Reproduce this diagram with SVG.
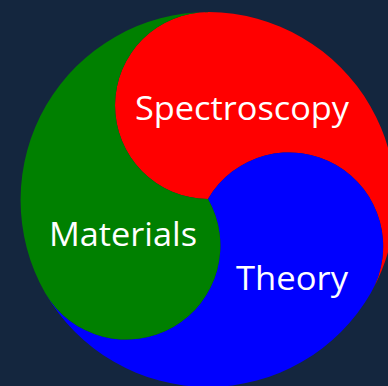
<svg xmlns="http://www.w3.org/2000/svg" width="388" height="386" viewBox="0 0 388 386">
  <style>
    .lbl { font-family: "Open Sans", "Noto Sans", sans-serif; font-size: 32px; fill: #ffffff; }
  </style>
  <rect width="388" height="386" fill="#14263e"/>
  <g id="spectroscopy">
    <path d="M208,199 A93,93 0 0 1 209,12 A188,188 0 0 1 370.81,293 A94,94 0 0 0 208,199 Z" fill="#ff0000"/>
    <text class="lbl" x="135" y="120" textLength="214" lengthAdjust="spacingAndGlyphs">Spectroscopy</text>
  </g>
  <g id="theory">
    <path d="M208,199 A94,94 0 0 1 370.81,293 A188,188 0 0 1 45.19,293 A94,94 0 0 0 208,199 Z" fill="#0000ff"/>
    <text class="lbl" x="236" y="290" textLength="112" lengthAdjust="spacingAndGlyphs">Theory</text>
  </g>
  <g id="materials">
    <path d="M208,199 A94,94 0 0 1 45.19,293 A188,188 0 0 1 209,12 A93,93 0 0 0 208,199 Z" fill="#008000"/>
    <text class="lbl" x="49" y="246" textLength="148" lengthAdjust="spacingAndGlyphs">Materials</text>
  </g>
  <g id="connectors"/>
</svg>
